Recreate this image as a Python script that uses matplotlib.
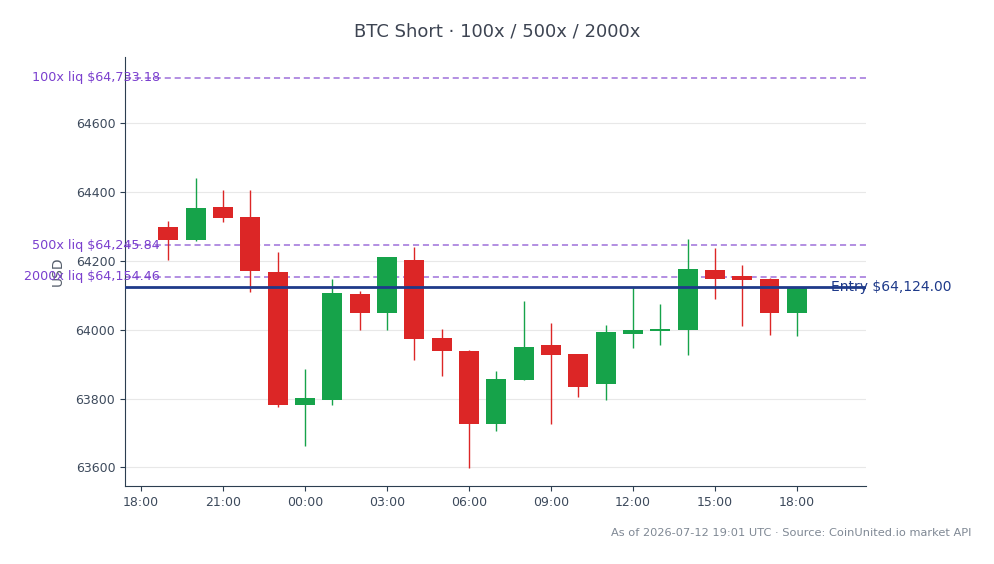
import matplotlib
matplotlib.use("Agg")
import matplotlib.pyplot as plt
import matplotlib.dates as mdates
import numpy as np
from datetime import datetime, timedelta

# hourly candles, 2026-07-11 19:00 .. 2026-07-12 18:00 UTC
start = datetime(2026, 7, 11, 19, 0)
times = [start + timedelta(hours=i) for i in range(24)]

opens = [64299, 64262, 64358, 64328, 64169, 63780, 63795, 64105, 64048, 64204, 63977, 63939,
         63725, 63854, 63956, 63930, 63842, 63988, 63996, 63998, 64174, 64155, 64148, 64050]
highs = [64315, 64441, 64407, 64407, 64225, 63886, 64148, 64113, 64213, 64241, 64002, 63940,
         63879, 64085, 64021, 63931, 64013, 64123, 64075, 64265, 64239, 64187, 64150, 64124]
lows = [64204, 64259, 64312, 64111, 63775, 63663, 63782, 64000, 64000, 63911, 63867, 63598,
        63707, 63853, 63727, 63804, 63795, 63946, 63956, 63927, 64090, 64012, 63986, 63983]
closes = [64260, 64355, 64324, 64170, 63782, 63802, 64108, 64049, 64213, 63973, 63937, 63727,
          63858, 63951, 63928, 63835, 63993, 64000, 64002, 64177, 64149, 64145, 64050, 64124]

entry_price = 64124.00
liq_names = ["100x", "500x", "2000x"]
liq_prices = [64733.18, 64245.84, 64154.46]

green = "#16a34a"
red = "#dc2626"
purple_line = "#9461d6"
purple_text = "#7a3fce"
navy = "#1e3a8a"

fig = plt.figure(figsize=(9.94, 5.64), dpi=100)
ax = fig.add_axes([0.1258, 0.1383, 0.7454, 0.7607])

x = mdates.date2num(times)
width = 0.73 / 24
for xi, o, h, l, c in zip(x, opens, highs, lows, closes):
    col = green if c >= o else red
    ax.vlines(xi, l, h, color=col, linewidth=1, zorder=2)
    ax.bar(xi, max(abs(c - o), 1.5), bottom=min(o, c), width=width, color=col, zorder=3)

# liquidation levels
label_x = mdates.date2num(start) - 0.3 / 24
for name, p in zip(liq_names, liq_prices):
    ax.axhline(p, color=purple_line, linestyle=(0, (4, 2.5)), linewidth=1.1, alpha=0.9, zorder=1)
    ax.text(label_x, p, f"{name} liq ${p:,.2f}", color=purple_text, fontsize=9.2,
            ha="right", va="center", zorder=4, clip_on=False)

ax.axhline(entry_price, color=navy, linewidth=2, zorder=4)
ax.text(mdates.date2num(start) + 24.25 / 24, entry_price, f"Entry ${entry_price:,.2f}",
        color=navy, fontsize=10, ha="left", va="center", zorder=5, clip_on=False)

ax.set_xlim(mdates.date2num(start) - 1.585 / 24, mdates.date2num(start) + 25.53 / 24)
ax.set_ylim(63546, 64793)
ax.set_yticks([63600, 63800, 64000, 64200, 64400, 64600])
ax.xaxis.set_major_locator(mdates.HourLocator(byhour=range(0, 24, 3)))
ax.xaxis.set_major_formatter(mdates.DateFormatter("%H:%M"))

ax.grid(axis="y", color="#e8e8e8", linewidth=0.8, zorder=0)
ax.set_axisbelow(True)
for s in ["top", "right"]:
    ax.spines[s].set_visible(False)
for s in ["left", "bottom"]:
    ax.spines[s].set_color("#2c3e50")
ax.tick_params(labelsize=9, colors="#2c3e50", labelcolor="#3d4a5c")
ax.set_ylabel("USD", color="#555e6b", fontsize=10, labelpad=8)

fig.suptitle("BTC Short · 100x / 500x / 2000x", y=0.96, fontsize=13, color="#3d4452")
fig.text(0.977, 0.055, "As of 2026-07-12 19:01 UTC · Source: CoinUnited.io market API",
         ha="right", va="center", fontsize=8.2, color="#7f8894")

fig.savefig("out.png", dpi=100)
